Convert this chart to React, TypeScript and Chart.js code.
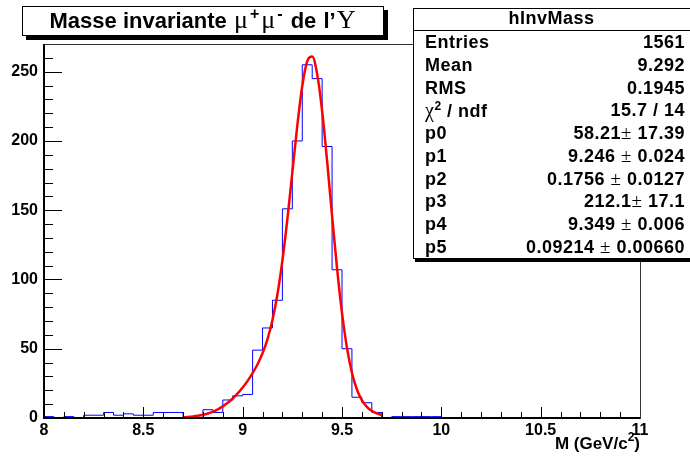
import React, { useEffect, useRef } from 'react';
import { Chart, registerables } from 'chart.js';

Chart.register(...registerables);

// Histogram definition (60 bins of 0.05 GeV from 8 to 11)
const HIST_MIN = 8;
const HIST_MAX = 11;
const BIN_WIDTH = 0.05;
const binCounts = [
  1, 0, 1, 0, 2, 2, 4, 2, 3, 2,
  2, 4, 4, 4, 0, 0, 6, 4, 13, 16,
  17, 49, 65, 85, 151, 200, 255, 245, 196, 107,
  50, 15, 11, 4, 0, 1, 1, 1, 1, 1,
  0, 0, 0, 0, 0, 0, 0, 0, 0, 0,
  0, 0, 0, 0, 0, 0, 0, 0, 0, 0,
];

// Fit curve
const fitX = [
  8.7, 8.725, 8.75, 8.775, 8.8, 8.825, 8.85, 8.875, 8.9, 8.925,
  8.95, 8.975, 9.0, 9.025, 9.05, 9.075, 9.1, 9.125, 9.15, 9.175,
  9.2, 9.225, 9.25, 9.275, 9.3, 9.325, 9.35, 9.375, 9.4, 9.425,
  9.45, 9.475, 9.5, 9.525, 9.55, 9.575, 9.6, 9.625, 9.65, 9.675, 9.7,
];
const fitY = [
  0.46, 0.71, 1.08, 1.6, 2.31, 3.29, 4.58, 6.25, 8.36, 10.95,
  14.08, 17.75, 21.98, 26.8, 32.32, 38.78, 46.7, 56.95, 70.72, 89.3,
  113.62, 143.55, 177.28, 211.05, 239.65, 257.64, 260.94, 248.26, 221.6, 185.57,
  145.96, 108.14, 75.83, 50.7, 32.66, 20.54, 12.82, 8.06, 5.15, 3.35, 2.21,
];

const xTickValues = [8, 8.5, 9, 9.5, 10, 10.5, 11];
const xTickLabels = ['8', '8.5', '9', '9.5', '10', '10.5', '11'];
const yTickValues = [0, 50, 100, 150, 200, 250];
const yTickLabels = ['0', '50', '100', '150', '200', '250'];
const Y_MAX = 270;
const X_MINOR_STEP = 0.1;
const Y_MINOR_STEP = 10;

const statsTitle = 'hInvMass';
const statsLabels = ['Entries', 'Mean', 'RMS', 'χ^2 / ndf', 'p0', 'p1', 'p2', 'p3', 'p4', 'p5'];
const statsValues = [
  '1561', '9.292', '0.1945', '15.7 / 14',
  '58.21± 17.39', '9.246 ± 0.024', '0.1756 ± 0.0127',
  '212.1± 17.1', '9.349 ± 0.006', '0.09214 ± 0.00660',
];

const SANS = '"Liberation Sans", Arial, Helvetica, sans-serif';
const SERIF = '"Liberation Serif", "Times New Roman", serif';

const frameTicks = {
  id: 'frameTicks',
  afterDatasetsDraw(chart: any) {
    const { ctx, chartArea: a, scales } = chart;
    const x = scales.x;
    const y = scales.y;
    ctx.save();
    ctx.strokeStyle = '#000';
    ctx.lineWidth = 1;
    ctx.beginPath();
    const nx = Math.round((HIST_MAX - HIST_MIN) / X_MINOR_STEP);
    for (let i = 0; i <= nx; i++) {
      const v = HIST_MIN + i * X_MINOR_STEP;
      const major = i % 5 === 0;
      const px = Math.round(x.getPixelForValue(v)) + 0.5;
      ctx.moveTo(px, a.bottom);
      ctx.lineTo(px, a.bottom - (major ? 11 : 6));
    }
    const ny = Math.floor(Y_MAX / Y_MINOR_STEP);
    for (let i = 0; i <= ny; i++) {
      const v = i * Y_MINOR_STEP;
      const major = i % 5 === 0;
      const py = Math.round(y.getPixelForValue(v)) + 0.5;
      ctx.moveTo(a.left, py);
      ctx.lineTo(a.left + (major ? 18 : 9), py);
    }
    ctx.stroke();
    // frame
    ctx.strokeStyle = '#333';
    ctx.lineWidth = 1;
    ctx.strokeRect(Math.round(a.left) + 0.5, Math.round(a.top) + 0.5, Math.round(a.right - a.left), Math.round(a.bottom - a.top));
    ctx.strokeStyle = '#000';
    ctx.lineWidth = 2;
    ctx.beginPath();
    ctx.moveTo(Math.round(a.left), Math.round(a.top));
    ctx.lineTo(Math.round(a.left), Math.round(a.bottom));
    ctx.lineTo(Math.round(a.right), Math.round(a.bottom));
    ctx.stroke();
    ctx.restore();
  },
};

function renderLabel(s: string) {
  if (s.startsWith('χ^2')) {
    return (
      <span>
        <span style={{ fontFamily: SERIF, fontWeight: 'normal', fontSize: 20 }}>χ</span>
        <span style={{ fontSize: 12, position: 'relative', top: -7 }}>2</span>
        {s.slice(3)}
      </span>
    );
  }
  return s;
}

function renderValue(s: string) {
  const idx = s.indexOf('±');
  if (idx < 0) return s;
  return (
    <span>
      {s.slice(0, idx)}
      <span style={{ fontFamily: SERIF, fontWeight: 'normal', fontSize: 19 }}>±</span>
      {s.slice(idx + 1)}
    </span>
  );
}

const greek = { fontFamily: SERIF, fontWeight: 'normal' as const, fontSize: 26, margin: '0 1px' };
const supS = { fontSize: 16, position: 'relative' as const, top: -9, margin: '0 1px' };

export default function App() {
  const canvasRef = useRef<HTMLCanvasElement | null>(null);

  useEffect(() => {
    const canvas = canvasRef.current;
    if (!canvas) return;
    const histData = binCounts.map((c, i) => ({ x: HIST_MIN + i * BIN_WIDTH, y: c }));
    histData.push({ x: HIST_MAX, y: binCounts[binCounts.length - 1] });
    const fitData = fitX.map((xv, i) => ({ x: xv, y: fitY[i] }));
    const tickFont = { family: SANS, size: 16, weight: 'bold' as const };

    const chart = new Chart(canvas, {
      type: 'line',
      data: {
        datasets: [
          {
            label: 'fit',
            data: fitData,
            borderColor: '#ff0000',
            borderWidth: 2.5,
            pointRadius: 0,
            cubicInterpolationMode: 'monotone',
            fill: false,
            order: 0,
          },
          {
            label: 'hInvMass',
            data: histData,
            borderColor: '#0000ff',
            borderWidth: 1,
            pointRadius: 0,
            stepped: 'before',
            fill: false,
            order: 1,
          },
        ],
      },
      options: {
        animation: false,
        responsive: false,
        maintainAspectRatio: false,
        layout: { padding: { top: 44, right: 50, bottom: 0, left: 0 } },
        plugins: { legend: { display: false }, tooltip: { enabled: false }, title: { display: false } },
        scales: {
          x: {
            type: 'linear',
            min: HIST_MIN,
            max: HIST_MAX,
            afterBuildTicks: (s: any) => {
              s.ticks = xTickValues.map((v) => ({ value: v }));
            },
            afterFit: (s: any) => {
              s.height = 42;
            },
            ticks: {
              callback: (v: any) => {
                const i = xTickValues.indexOf(Number(v));
                return i >= 0 ? xTickLabels[i] : '';
              },
              font: tickFont,
              color: '#000',
              padding: 3,
              maxRotation: 0,
              autoSkip: false,
            },
            grid: { display: false, drawTicks: false },
            border: { display: false },
          },
          y: {
            type: 'linear',
            min: 0,
            max: Y_MAX,
            afterBuildTicks: (s: any) => {
              s.ticks = yTickValues.map((v) => ({ value: v }));
            },
            afterFit: (s: any) => {
              s.width = 44;
            },
            ticks: {
              callback: (v: any) => {
                const i = yTickValues.indexOf(Number(v));
                return i >= 0 ? yTickLabels[i] : '';
              },
              font: tickFont,
              color: '#000',
              padding: 6,
              autoSkip: false,
            },
            grid: { display: false, drawTicks: false },
            border: { display: false },
          },
        },
      },
      plugins: [frameTicks],
    } as any);
    return () => chart.destroy();
  }, []);

  return (
    <div style={{ position: 'absolute', left: 0, top: 0, width: 690, height: 460, background: '#fff', overflow: 'hidden' }}>
      <canvas ref={canvasRef} width={690} height={460} style={{ position: 'absolute', left: 0, top: 0, display: 'block' }} />

      {/* Title box */}
      <div
        style={{
          position: 'absolute', left: 22, top: 6, width: 362, height: 30, boxSizing: 'border-box',
          border: '1px solid #000', background: '#fff', boxShadow: '4px 4px 0 #000',
          display: 'flex', alignItems: 'center', justifyContent: 'center',
          fontFamily: SANS, fontWeight: 'bold', fontSize: 22, color: '#000', whiteSpace: 'nowrap',
        }}
      >
        <span style={{ lineHeight: '28px' }}>
          Masse invariante{' '}
          <span style={greek}>μ</span>
          <span style={supS}>+</span>
          <span style={greek}>μ</span>
          <span style={supS}>-</span>
          <span style={{ wordSpacing: 1 }}>{' de l’'}</span>
          <span style={greek}>Υ</span>
        </span>
      </div>

      {/* Stats box */}
      <div
        style={{
          position: 'absolute', left: 413, top: 8, width: 280, height: 251, boxSizing: 'border-box',
          border: '1px solid #000', background: '#fff', boxShadow: '2px 3px 0 #000',
          fontFamily: SANS, fontWeight: 'bold', fontSize: 18, letterSpacing: 0.5, color: '#000', whiteSpace: 'nowrap', overflow: 'hidden',
        }}
      >
        <div style={{ height: 21, lineHeight: '19px', textAlign: 'center', borderBottom: '1px solid #000', paddingRight: 3 }}>{statsTitle}</div>
        {statsLabels.map((lab, i) => (
          <div
            key={lab}
            style={{ height: 22.75, lineHeight: '22.75px', display: 'flex', justifyContent: 'space-between', paddingLeft: 11, paddingRight: 7 }}
          >
            <span>{renderLabel(lab)}</span>
            <span>{renderValue(statsValues[i])}</span>
          </div>
        ))}
      </div>

      {/* X axis title */}
      <div
        style={{
          position: 'absolute', right: 50, top: 435, lineHeight: '17px', fontFamily: SANS, fontWeight: 'bold',
          fontSize: 17, color: '#000', whiteSpace: 'nowrap',
        }}
      >
        M (GeV/c<span style={{ fontSize: 12, position: 'relative', top: -8 }}>2</span>)
      </div>
    </div>
  );
}
